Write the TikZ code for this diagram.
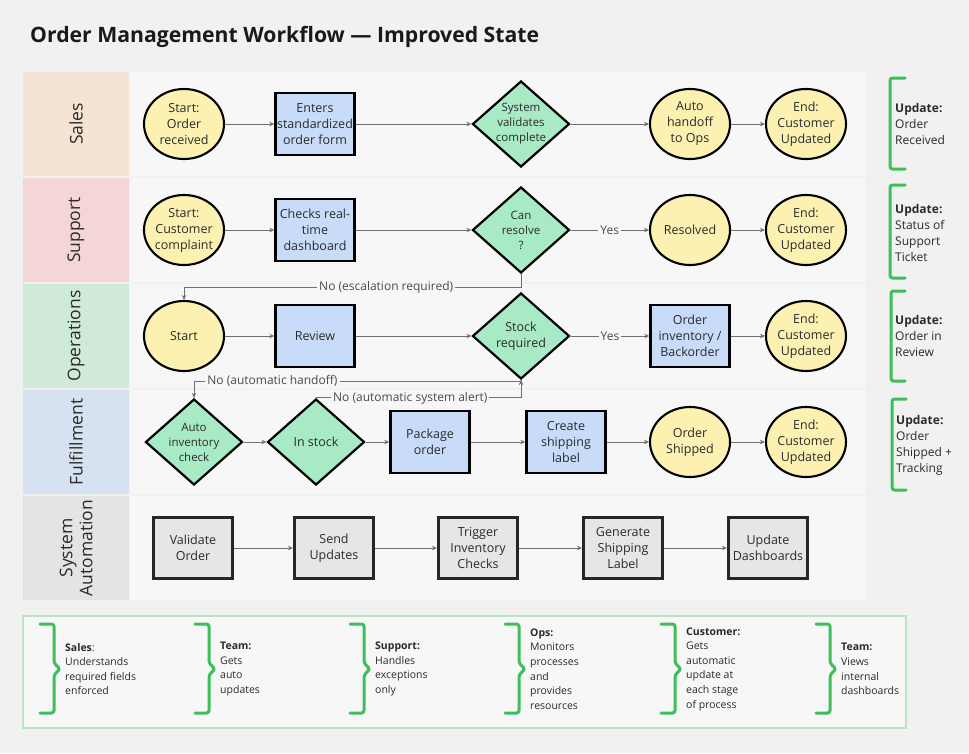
\documentclass[tikz,border=0pt]{standalone}
\usepackage{fontspec}
\setmainfont{Open Sans}
\usetikzlibrary{shapes.geometric,arrows.meta}
\definecolor{bgc}{HTML}{F1F1F1}
\definecolor{lanebg}{HTML}{F7F7F7}
\definecolor{salesc}{HTML}{F5E3D3}
\definecolor{suppc}{HTML}{F4D6D6}
\definecolor{opsc}{HTML}{CFEBD7}
\definecolor{fulc}{HTML}{D6E2F2}
\definecolor{autoc}{HTML}{E4E4E4}
\definecolor{yel}{HTML}{FDF1B2}
\definecolor{blu}{HTML}{C8DBF8}
\definecolor{grn}{HTML}{A9EAC6}
\definecolor{gry}{HTML}{E6E6E6}
\definecolor{brk}{HTML}{3DBF5C}
\definecolor{pnl}{HTML}{B9E5C4}
\definecolor{txt}{HTML}{2B2B2B}
\definecolor{connc}{HTML}{707070}
\tikzset{
  ell/.style={ellipse,draw=black,line width=2.1pt,fill=yel,minimum width=80pt,minimum height=70pt,inner sep=0pt},
  rbox/.style={rectangle,draw=black,line width=2.4pt,fill=blu,minimum width=79pt,minimum height=62pt,inner sep=0pt,align=center,text=txt,font=\fontsize{12.5}{16}\selectfont},
  abox/.style={rectangle,draw=black!85,line width=3pt,fill=gry,minimum width=79pt,minimum height=61pt,inner sep=0pt,align=center,text=txt,font=\fontsize{12.5}{16}\selectfont},
  dia/.style={diamond,draw=black,line width=2.2pt,fill=grn,minimum width=97pt,minimum height=86pt,inner sep=0pt},
  ntext/.style={align=center,text=txt,inner sep=0pt,font=\fontsize{12.5}{16}\selectfont},
  dtext/.style={align=center,text=txt,inner sep=0pt,font=\fontsize{11.5}{15}\selectfont},
  conn/.style={draw=connc,line width=1pt,-{Stealth[length=5pt,width=4.5pt]}},
  elab/.style={fill=lanebg,inner sep=2pt,text=txt!85,font=\fontsize{12}{14}\selectfont},
  lanelab/.style={rotate=90,align=center,text=txt,font=\fontsize{17.5}{20}\selectfont},
  brace/.style={draw=brk,line width=3pt,rounded corners=2.5pt,line cap=round},
  atext/.style={anchor=west,align=left,inner sep=0pt,text=txt,font=\fontsize{12}{16}\selectfont},
  ptext/.style={anchor=west,align=left,inner sep=0pt,text=txt,font=\fontsize{10.5}{14.6}\selectfont},
}
\begin{document}
\begin{tikzpicture}[x=1pt,y=-1pt]
\fill[bgc] (0,0) rectangle (969,753);
\useasboundingbox (0,0) rectangle (969,753);
% title
\node[anchor=west,inner sep=0pt,text=black!90,font=\fontsize{21.2}{25}\selectfont\bfseries] (title) at (30,37) {Order Management Workflow — Improved State};
% lanes
\fill[salesc] (23,72) rectangle (129,176);  \fill[lanebg] (130,72) rectangle (865,176);
\fill[suppc] (23,178) rectangle (129,282);  \fill[lanebg] (130,178) rectangle (865,282);
\fill[opsc] (23,284) rectangle (129,388);   \fill[lanebg] (130,284) rectangle (865,388);
\fill[fulc] (23,390) rectangle (129,494);   \fill[lanebg] (130,390) rectangle (865,494);
\fill[autoc] (23,496) rectangle (129,600);  \fill[lanebg] (130,496) rectangle (865,600);
\node[lanelab] (l1) at (76,124) {Sales};
\node[lanelab] (l2) at (76,230) {Support};
\node[lanelab] (l3) at (76,336) {Operations};
\node[lanelab] (l4) at (76,442) {Fulfillment};
\node[lanelab] (l5) at (76,548) {System\\Automation};
% Sales
\node[ell] (s1) at (184,124) {}; \node[ntext] (s1t) at (s1) {Start:\\Order\\received};
\node[rbox] (s2) at (315,124) {Enters\\standardized\\order form};
\node[dia] (s3) at (521,124) {}; \node[dtext] (s3t) at (s3) {System\\validates\\complete};
\node[ell] (s4) at (690,124) {}; \node[ntext] (s4t) at (s4) {Auto\\handoff\\to Ops};
\node[ell] (s5) at (806,124) {}; \node[ntext] (s5t) at (s5) {End:\\Customer\\Updated};
\draw[conn] (s1) -- (s2);
\draw[conn] (s2) -- (s3);
\draw[conn] (s3) -- (s4);
\draw[conn] (s4) -- (s5);
% Support
\node[ell] (p1) at (184,230) {}; \node[ntext] (p1t) at (p1) {Start:\\Customer\\complaint};
\node[rbox] (p2) at (315,230) {Checks real-\\time\\dashboard};
\node[dia] (p3) at (521,230) {}; \node[dtext] (p3t) at (p3) {Can\\resolve\\?};
\node[ell] (p4) at (690,230) {}; \node[ntext] (p4t) at (p4) {Resolved};
\node[ell] (p5) at (806,230) {}; \node[ntext] (p5t) at (p5) {End:\\Customer\\Updated};
\draw[conn] (p1) -- (p2);
\draw[conn] (p2) -- (p3);
\draw[conn] (p3) -- node[elab]{Yes} (p4);
\draw[conn] (p4) -- (p5);
% Operations
\node[ell] (o1) at (184,336) {}; \node[ntext] (o1t) at (o1) {Start};
\node[rbox] (o2) at (315,336) {Review};
\node[dia] (o3) at (521,336) {}; \node[ntext] (o3t) at (o3) {Stock\\required};
\node[rbox] (o4) at (690,336) {Order\\inventory /\\Backorder};
\node[ell] (o5) at (806,336) {}; \node[ntext] (o5t) at (o5) {End:\\Customer\\Updated};
\draw[conn] (o1) -- (o2);
\draw[conn] (o2) -- (o3);
\draw[conn] (o3) -- node[elab]{Yes} (o4);
\draw[conn] (o4) -- (o5);
\draw[conn] (p3.south) -- ++(0,13) -| node[elab,pos=0.2]{No (escalation required)} (o1.north);
% Fulfillment
\node[dia] (f1) at (194,442) {}; \node[dtext] (f1t) at (f1) {Auto\\inventory\\check};
\node[dia] (f2) at (316,442) {}; \node[ntext] (f2t) at (f2) {In stock};
\node[rbox] (f3) at (430,442) {Package\\order};
\node[rbox] (f4) at (566,442) {Create\\shipping\\label};
\node[ell] (f5) at (690,442) {}; \node[ntext] (f5t) at (f5) {Order\\Shipped};
\node[ell] (f6) at (806,442) {}; \node[ntext] (f6t) at (f6) {End:\\Customer\\Updated};
\draw[conn] (f1) -- (f2);
\draw[conn] (f2) -- (f3);
\draw[conn] (f3) -- (f4);
\draw[conn] (f4) -- (f5);
\draw[conn] (f5) -- (f6);
\draw[conn] (o3.south) -- ++(0,1) -| node[elab,pos=0.38]{No (automatic handoff)} (f1.north);
\draw[conn] (f2.north) -| node[elab,pos=0.23]{No (automatic system alert)} (o3.south);
% System automation
\node[abox] (a1) at (193,548) {Validate\\Order};
\node[abox] (a2) at (334,548) {Send\\Updates};
\node[abox] (a3) at (478,548) {Trigger\\Inventory\\Checks};
\node[abox] (a4) at (623,548) {Generate\\Shipping\\Label};
\node[abox] (a5) at (768,548) {Update\\Dashboards};
\draw[conn] (a1) -- (a2);
\draw[conn] (a2) -- (a3);
\draw[conn] (a3) -- (a4);
\draw[conn] (a4) -- (a5);
% right annotations
\draw[brace] (905,78) -- (890,78) -- (890,169) -- (905,169);
\draw[brace] (905,185) -- (890,185) -- (890,278) -- (905,278);
\draw[brace] (905,291) -- (891,291) -- (891,381) -- (905,381);
\draw[brace] (906,399) -- (892,399) -- (892,490) -- (906,490);
\node[atext] (r1) at (895,124) {\textbf{Update:}\\Order\\Received};
\node[atext] (r2) at (895,233) {\textbf{Update:}\\Status of\\Support\\Ticket};
\node[atext] (r3) at (895,336) {\textbf{Update:}\\Order in\\Review};
\node[atext] (r4) at (896,445) {\textbf{Update:}\\Order\\Shipped +\\Tracking};
% bottom panel
\draw[draw=pnl,fill=lanebg,line width=1.2pt] (23,616) rectangle (906,728);
\foreach \bx in {40,195,350,505,661,816}
  \draw[brace] (\bx,624) -- (\bx+14,624) -- (\bx+14,663) -- (\bx+20,669) -- (\bx+14,675) -- (\bx+14,713) -- (\bx,713);
\node[ptext] (b1) at (65,669) {\textbf{Sales}:\\Understands\\required fields\\enforced};
\node[ptext] (b2) at (220,669) {\textbf{Team:}\\Gets\\auto\\updates};
\node[ptext] (b3) at (375,669) {\textbf{Support:}\\Handles\\exceptions\\only};
\node[ptext] (b4) at (530,669) {\textbf{Ops:}\\Monitors\\processes\\and\\provides\\resources};
\node[ptext] (b5) at (686,669) {\textbf{Customer:}\\Gets\\automatic\\update at\\each stage\\of process};
\node[ptext] (b6) at (841,669) {\textbf{Team:}\\Views\\internal\\dashboards};
\end{tikzpicture}
\end{document}
